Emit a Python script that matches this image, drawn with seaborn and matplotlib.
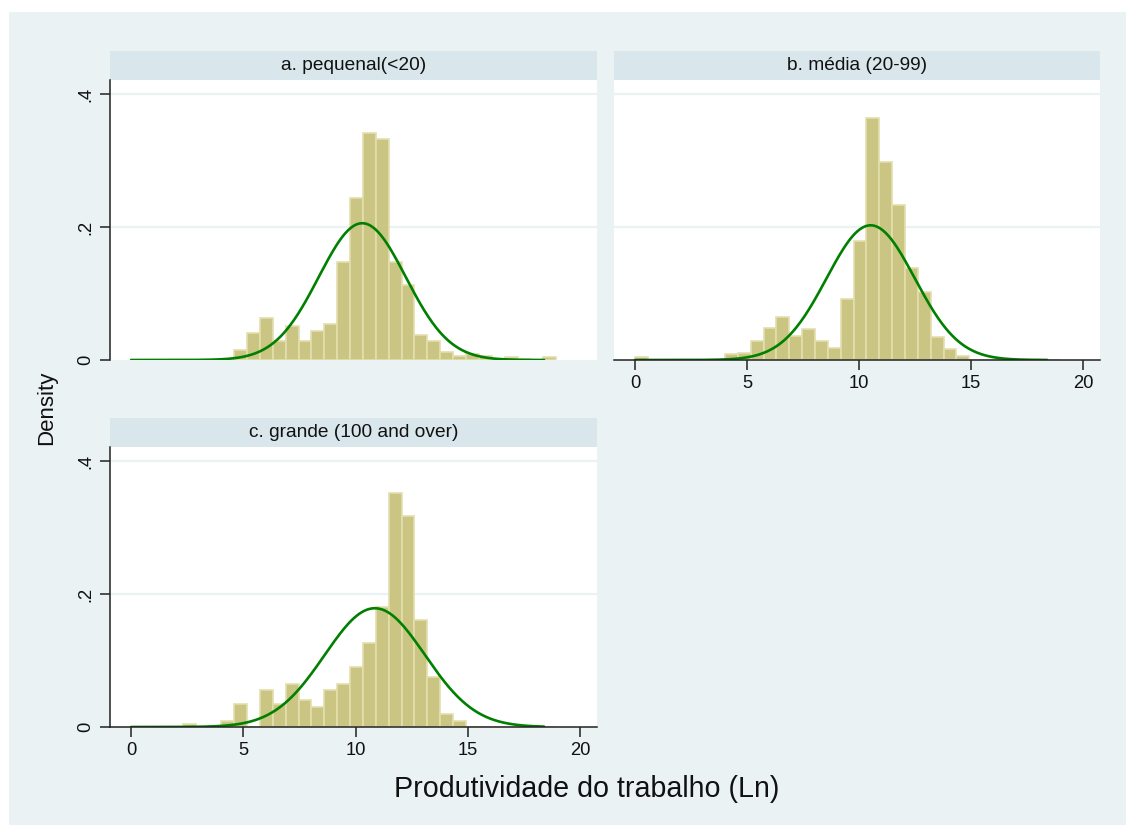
import numpy as np
import pandas as pd
import matplotlib
matplotlib.use("Agg")
import matplotlib.pyplot as plt
from matplotlib.patches import Rectangle
import seaborn as sns

# bin layout (common to all panels)
bin_start = 0.0
bin_width = 0.574
n_bins = 33

# densities, one per bin (index = bin number)
dens_a = [0, 0, 0, 0, 0, 0, 0, 0, 0.015, 0.040, 0.0625, 0.029, 0.051, 0.029, 0.043, 0.054,
          0.147, 0.243, 0.342, 0.333, 0.147, 0.113, 0.037, 0.029, 0.012, 0.0066, 0.009,
          0.006, 0.002, 0.004, 0.001, 0, 0.004]
dens_b = [0.004, 0, 0, 0, 0, 0, 0, 0.009, 0.011, 0.028, 0.048, 0.065, 0.036, 0.046, 0.028,
          0.018, 0.091, 0.179, 0.364, 0.298, 0.233, 0.139, 0.102, 0.034, 0.016, 0.006,
          0, 0, 0, 0, 0, 0, 0]
dens_c = [0, 0, 0, 0, 0.0045, 0, 0, 0.0096, 0.035, 0, 0.055, 0.035, 0.065, 0.041, 0.030,
          0.055, 0.065, 0.090, 0.126, 0.181, 0.352, 0.317, 0.161, 0.0755, 0.020, 0.0096,
          0, 0, 0, 0, 0, 0, 0]

# normal overlay parameters (mean, sd)
normal_a = (10.30, 1.94)
normal_b = (10.52, 1.97)
normal_c = (10.86, 2.234)
curve_range = (0.0, 18.4)

titles = ["a. pequenal(<20)", "b. média (20-99)", "c. grande (100 and over)"]
x_ticks = [0, 5, 10, 15, 20]
y_ticks = [0, 0.2, 0.4]
y_tick_labels = ["0", ".2", ".4"]

sns.set_theme(style="white")
plt.rcParams["font.family"] = ["Liberation Sans", "DejaVu Sans"]

W, H = 1126, 825
bg = "#EAF2F3"
strip_col = "#D9E6EB"
bar_fill = "#CBC583"
bar_edge = "#E3DEAD"
line_col = "#008000"

fig = plt.figure(figsize=(W / 100, H / 100), dpi=100, facecolor="white")
fig.patches.append(Rectangle((9 / W, 0), 1, (H - 12) / H, transform=fig.transFigure,
                             facecolor=bg, edgecolor="none", zorder=-10))


def px_axes(x0, y0, x1, y1):
    return fig.add_axes([x0 / W, 1 - y1 / H, (x1 - x0) / W, (y1 - y0) / H])


ax_a = px_axes(110, 80, 597, 360)
ax_b = px_axes(614, 80, 1100, 360)
ax_c = px_axes(110, 447, 597, 727)

centers = bin_start + bin_width * (np.arange(n_bins) + 0.5)

panels = [(ax_a, dens_a, normal_a, titles[0], False, True),
          (ax_b, dens_b, normal_b, titles[1], True, False),
          (ax_c, dens_c, normal_c, titles[2], True, True)]

for ax, dens, (mu, sd), title, show_x, show_y in panels:
    df = pd.DataFrame({"x": centers, "d": dens})
    df = df[df["d"] > 0]
    ax.set_facecolor("white")
    for g in [0.2, 0.4]:
        ax.axhline(g, color=bg, lw=1.6, zorder=0)
    sns.histplot(data=df, x="x", weights="d", binwidth=bin_width,
                 binrange=(bin_start, bin_start + n_bins * bin_width), ax=ax,
                 color=bar_fill, edgecolor=bar_edge, linewidth=1.2, alpha=1)
    xs = np.linspace(curve_range[0], curve_range[1], 300)
    pdf = np.exp(-0.5 * ((xs - mu) / sd) ** 2) / (sd * np.sqrt(2 * np.pi))
    sns.lineplot(x=xs, y=pdf, ax=ax, color=line_col, lw=1.9)

    ax.set_xlim(-0.94, 20.76)
    ax.set_ylim(0, 0.421)
    ax.set_xlabel("")
    ax.set_ylabel("")
    for s in ["top", "right"]:
        ax.spines[s].set_visible(False)
    ax.spines["left"].set_visible(show_y)
    ax.spines["bottom"].set_visible(show_x)
    for s in ["left", "bottom"]:
        ax.spines[s].set_color("#222222")
        ax.spines[s].set_linewidth(1.1)
    ax.tick_params(direction="out", length=7, width=1.1, color="#222222",
                   labelsize=13.2, labelcolor="#111111")
    if show_x:
        ax.set_xticks(x_ticks)
        ax.set_xticklabels([str(t) for t in x_ticks])
        ax.tick_params(axis="x", pad=4, bottom=True)
    else:
        ax.set_xticks([])
    if show_y:
        ax.set_yticks(y_ticks)
        ax.set_yticklabels(y_tick_labels, rotation=90, va="center")
        ax.tick_params(axis="y", pad=4, left=True)
    else:
        ax.set_yticks([])

    ax.add_patch(Rectangle((0, 1), 1, 29 / 280, transform=ax.transAxes, clip_on=False,
                           facecolor=strip_col, edgecolor="none"))
    ax.text(0.5, 1 + 14.5 / 280, title, transform=ax.transAxes, ha="center", va="center",
            fontsize=13.8, color="#111111")

fig.text(47 / W, 1 - 408 / H, "Density", rotation=90, ha="center", va="center",
         fontsize=16, color="#111111")
fig.text(587 / W, 1 - 789 / H, "Produtividade do trabalho (Ln)", ha="center", va="center",
         fontsize=20.6, color="#111111")

fig.savefig("out.png", dpi=100, facecolor="white")
